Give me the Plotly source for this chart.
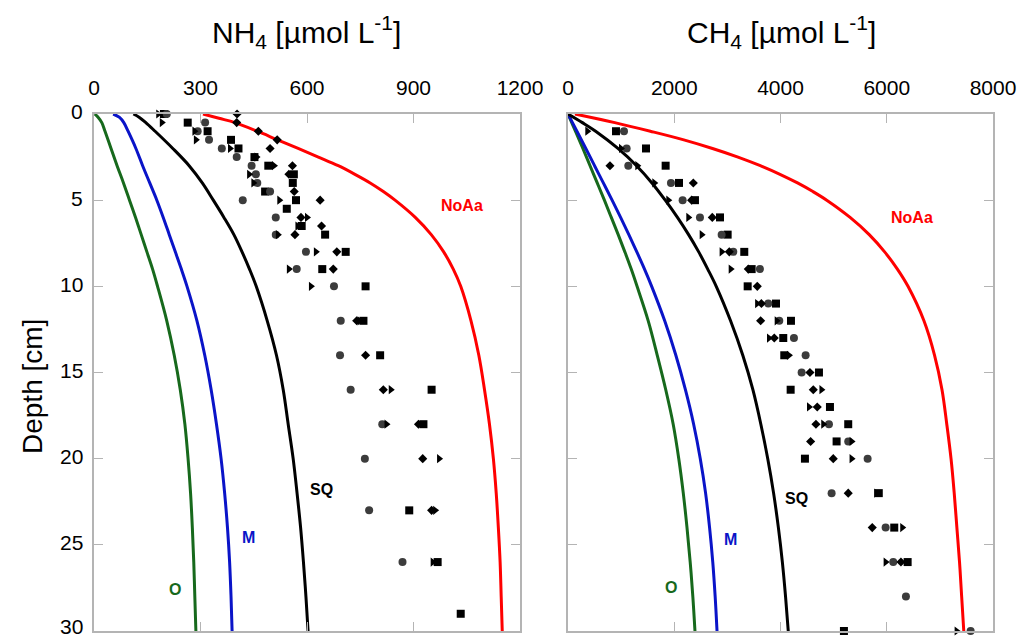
import plotly.graph_objects as go

# ---- modelled profiles (depth in cm) ----
nh4_curve_depth = [0, 0.2, 0.5, 1, 2, 3, 4, 5, 6, 7, 8, 9, 10, 12, 14, 16, 18, 20, 22, 24, 26, 28, 30]
nh4_o = [2, 12, 22, 31, 48, 65, 83, 100, 117, 133, 149, 165, 179, 205, 226, 243, 256, 265, 272, 277, 281, 284, 287]
nh4_m = [54, 72, 84, 96, 118, 137, 157, 177, 195, 212, 229, 246, 262, 290, 312, 330, 345, 358, 368, 376, 382, 386, 389]
nh4_sq = [111, 128, 146, 172, 222, 268, 305, 336, 366, 394, 417, 438, 457, 488, 514, 533, 547, 561, 572, 582, 590, 597, 603]
nh4_noaa_depth = [0, 0.25, 0.5, 1, 1.5, 2, 2.5, 3, 3.5, 4, 4.5, 5, 6, 7, 8, 9, 10, 12, 14, 16, 18, 20, 22, 24, 26, 28, 30]
nh4_noaa = [307, 352, 397, 460, 517, 575, 632, 688, 735, 778, 815, 848, 905, 950, 985, 1012, 1033, 1062, 1084,
            1100, 1114, 1125, 1133, 1139, 1144, 1147, 1150]

ch4_curve_depth = [0, 0.5, 1, 2, 3, 4, 5, 6, 7, 8, 9, 10, 12, 14, 16, 18, 20, 22, 24, 26, 28, 30]
ch4_o = [0, 70, 140, 280, 415, 550, 685, 815, 945, 1070, 1190, 1300, 1510, 1680, 1840, 1980, 2085, 2170, 2240, 2300, 2350, 2390]
ch4_m = [0, 84, 168, 335, 500, 665, 830, 990, 1145, 1295, 1440, 1575, 1820, 2030, 2210, 2365, 2490, 2590, 2665, 2725, 2770, 2805]
ch4_sq = [0, 270, 520, 940, 1290, 1580, 1830, 2060, 2270, 2460, 2630, 2790, 3060, 3290, 3480, 3630, 3760, 3870, 3960, 4035, 4095, 4146]
ch4_noaa_depth = [0, 0.5, 1, 1.5, 2, 2.5, 3, 3.5, 4, 4.5, 5, 6, 7, 8, 9, 10, 12, 14, 16, 18, 20, 22, 24, 26, 28, 30]
ch4_noaa = [130, 880, 1550, 2180, 2720, 3200, 3620, 3990, 4320, 4610, 4870, 5310, 5670, 5960, 6200, 6400, 6700,
            6900, 7040, 7130, 7210, 7270, 7320, 7370, 7410, 7450]

# ---- measured porewater concentrations ----
nh4_sq_pts_depth = [0, 0.5, 1, 1.5, 2, 2.5, 3, 3.5, 4, 4.5, 5, 5.5, 6.5, 7, 8, 9, 10, 12, 14, 16, 18, 23, 26, 29]
nh4_sq_pts = [197, 264, 320, 386, 407, 452, 491, 563, 560, 482, 569, 543, 585, 651, 709, 643, 765, 759, 806, 951, 928, 888, 968, 1033]
nh4_ci_pts_depth = [0, 0.5, 1, 1.5, 2, 2.5, 3, 3.5, 4, 4.5, 5, 6, 7, 8, 9, 10, 12, 14, 16, 18, 20, 23, 26]
nh4_ci_pts = [205, 313, 292, 324, 360, 402, 444, 456, 460, 496, 419, 512, 512, 597, 571, 676, 695, 693, 723, 812, 763, 775, 869]
nh4_di_pts_depth = [0, 0.5, 1, 1.5, 2, 3, 3.5, 4.5, 5, 6, 6.5, 7, 8, 9, 12, 14, 16, 18, 20, 23]
nh4_di_pts = [403, 402, 463, 516, 496, 559, 549, 564, 637, 583, 641, 566, 684, 674, 740, 765, 815, 914, 926, 951]
nh4_tr_pts_depth = [0, 0.5, 1, 1.5, 2, 2.5, 3, 3.5, 4, 5, 6, 6.5, 7, 8, 9, 10, 12, 16, 18, 20, 23, 26]
nh4_tr_pts = [181, 191, 283, 287, 383, 458, 507, 437, 449, 522, 600, 573, 518, 625, 549, 611, 748, 836, 824, 972, 961, 954]

ch4_sq_pts_depth = [1, 2, 3, 4, 5, 6, 7, 8, 9, 10, 11, 12, 13, 14, 15, 16, 17, 18, 19, 20, 22, 24, 26, 30]
ch4_sq_pts = [903, 1468, 1838, 2089, 2390, 2861, 3005, 3318, 3457, 3382, 3915, 4197, 4052, 4071, 4724, 4191, 4931, 5275, 5056, 4460, 5850, 6141, 6393, 5194]
ch4_ci_pts_depth = [1, 2, 3, 4, 5, 6, 7, 8, 9, 11, 12, 13, 14, 15, 18, 19, 20, 22, 24, 26, 28, 30]
ch4_ci_pts = [1054, 1104, 1135, 1938, 2158, 2484, 2892, 3111, 3613, 3770, 3977, 4253, 4473, 4398, 4912, 5275, 5640, 4962, 5979, 6122, 6361, 7579]
ch4_di_pts_depth = [3, 4, 5, 6, 8, 9, 10, 11, 12, 13, 15, 16, 17, 18, 19, 20, 22, 24, 26]
ch4_di_pts = [790, 2359, 2327, 2716, 3036, 3394, 3563, 3640, 3626, 3883, 4554, 4617, 4692, 4667, 4567, 4993, 5275, 5727, 6267]
ch4_tr_pts_depth = [1, 2, 3, 4, 5, 6, 7, 8, 9, 11, 12, 13, 14, 16, 17, 18, 19, 20, 22, 24, 26, 30]
ch4_tr_pts = [364, 997, 1305, 1625, 1888, 2265, 2516, 2892, 3062, 3560, 3928, 3783, 4159, 4770, 4536, 4805, 5338, 5338, 5800, 6292, 5979, 7315]

nh4_ticks = [0, 300, 600, 900, 1200]
ch4_ticks = [0, 2000, 4000, 6000, 8000]
depth_ticks = [0, 5, 10, 15, 20, 25, 30]

FONT = "Liberation Sans, Arial, sans-serif"
GREEN, BLUE, BLACK, RED = "#17691c", "#0a14c8", "#000000", "#ff0000"
FRAME = "#b4b4b4"

fig = go.Figure()


def add_curves(xs, ys, axes):
    xa, ya = axes
    for x, y, c in zip(xs, ys, [GREEN, BLUE, BLACK, RED]):
        fig.add_trace(go.Scatter(x=x, y=y, mode="lines",
                                 line=dict(color=c, width=3, shape="spline", smoothing=1.0),
                                 xaxis=xa, yaxis=ya, showlegend=False, hoverinfo="skip"))


def add_points(sets, axes):
    xa, ya = axes
    styles = [("square", 8, "#000000"), ("circle", 8, "#3c3c3c"),
              ("diamond", 7, "#000000"), ("triangle-right", 8, "#000000")]
    for (x, y), (sym, sz, col) in zip(sets, styles):
        fig.add_trace(go.Scatter(x=x, y=y, mode="markers", cliponaxis=False,
                                 marker=dict(symbol=sym, size=sz, color=col, line=dict(width=0)),
                                 xaxis=xa, yaxis=ya, showlegend=False, hoverinfo="skip"))


add_curves([nh4_o, nh4_m, nh4_sq, nh4_noaa],
           [nh4_curve_depth, nh4_curve_depth, nh4_curve_depth, nh4_noaa_depth], ("x", "y"))
add_points([(nh4_sq_pts, nh4_sq_pts_depth), (nh4_ci_pts, nh4_ci_pts_depth),
            (nh4_di_pts, nh4_di_pts_depth), (nh4_tr_pts, nh4_tr_pts_depth)], ("x", "y"))
add_curves([ch4_o, ch4_m, ch4_sq, ch4_noaa],
           [ch4_curve_depth, ch4_curve_depth, ch4_curve_depth, ch4_noaa_depth], ("x2", "y2"))
add_points([(ch4_sq_pts, ch4_sq_pts_depth), (ch4_ci_pts, ch4_ci_pts_depth),
            (ch4_di_pts, ch4_di_pts_depth), (ch4_tr_pts, ch4_tr_pts_depth)], ("x2", "y2"))

W, H = 1036, 638
ydom = [1 - 631 / H, 1 - 114 / H]

axis_common = dict(showline=True, linecolor=FRAME, linewidth=1.5, mirror="allticks",
                   ticks="inside", ticklen=9, tickwidth=1.2, tickcolor=FRAME,
                   showgrid=False, zeroline=False, automargin=False,
                   tickfont=dict(family=FONT, size=21, color="#000"))

fig.update_layout(
    width=W, height=H, margin=dict(l=0, r=0, t=0, b=0),
    paper_bgcolor="white", plot_bgcolor="white",
    xaxis=dict(axis_common, domain=[94 / W, 520 / W], anchor="y", side="top",
               range=[0, 1200], tickvals=nh4_ticks, ticklabelstandoff=9),
    yaxis=dict(axis_common, domain=ydom, anchor="x", range=[30, 0],
               tickvals=depth_ticks, showticklabels=False),
    xaxis2=dict(axis_common, domain=[568 / W, 993 / W], anchor="y2", side="top",
                range=[0, 8000], tickvals=ch4_ticks, ticklabelstandoff=9),
    yaxis2=dict(axis_common, domain=ydom, anchor="x2", range=[30, 0],
                tickvals=depth_ticks, showticklabels=False),
)

ann = []
ann.append(dict(text="NH<sub>4</sub> [µmol L<sup>-1</sup>]", x=306 / W, y=1 - 32 / H, xref="paper", yref="paper",
                xanchor="center", yanchor="middle", showarrow=False,
                font=dict(family=FONT, size=30, color="#000")))
ann.append(dict(text="CH<sub>4</sub> [µmol L<sup>-1</sup>]", x=781 / W, y=1 - 32 / H, xref="paper", yref="paper",
                xanchor="center", yanchor="middle", showarrow=False,
                font=dict(family=FONT, size=30, color="#000")))
ann.append(dict(text="Depth [cm]", x=32 / W, y=1 - 387 / H, xref="paper", yref="paper", textangle=-90,
                xanchor="center", yanchor="middle", showarrow=False,
                font=dict(family=FONT, size=28, color="#000")))

# depth tick labels on the left panel (the deepest one nudged up to stay inside the page)
for d in depth_ticks:
    ann.append(dict(text=str(d), x=84 / W, y=d, xref="paper", yref="y", xanchor="right", yanchor="middle",
                    yshift=5 if d == 30 else 2, borderpad=0, showarrow=False,
                    font=dict(family=FONT, size=21, color="#000")))

labels = [("x", "y", 228, 27.6, "O", GREEN), ("x", "y", 434, 24.6, "M", BLUE),
          ("x", "y", 642, 21.8, "SQ", BLACK), ("x", "y", 1037, 5.3, "NoAa", RED),
          ("x2", "y2", 1938, 27.5, "O", GREEN), ("x2", "y2", 3068, 24.7, "M", BLUE),
          ("x2", "y2", 4310, 22.3, "SQ", BLACK), ("x2", "y2", 6474, 6.0, "NoAa", RED)]
for xr, yr, x, y, t, c in labels:
    ann.append(dict(text="<b>%s</b>" % t, x=x, y=y, xref=xr, yref=yr, showarrow=False,
                    font=dict(family=FONT, size=16, color=c)))
fig.update_layout(annotations=ann)

fig.write_html("out.html")
